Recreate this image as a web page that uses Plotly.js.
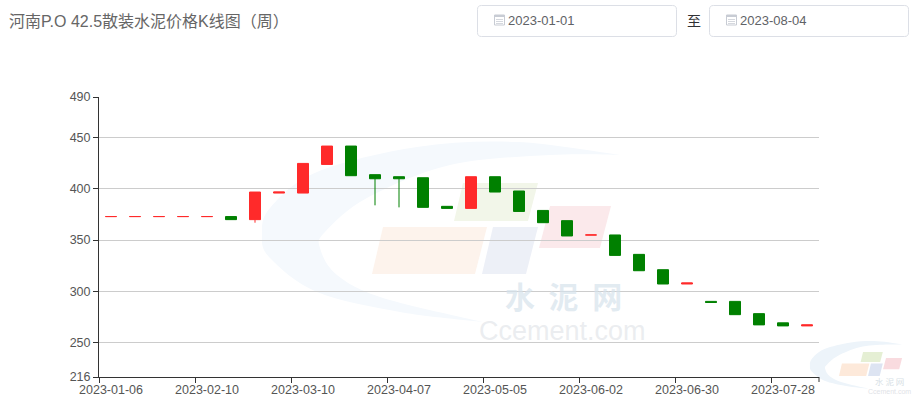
<!DOCTYPE html>
<html>
<head>
<meta charset="utf-8">
<script src="https://cdn.plot.ly/plotly-3.0.1.min.js"></script>
<style>html,body{margin:0;padding:0;background:#fff}#chart{width:921px;height:403px}
.trace.boxes path{stroke-linejoin:miter !important}</style>
</head>
<body>
<div id="chart"></div>
<script>
const dates = ['2023-01-06','2023-01-13','2023-01-20','2023-02-03','2023-02-10','2023-02-17','2023-02-24','2023-03-03','2023-03-10','2023-03-17','2023-03-24','2023-03-31','2023-04-07','2023-04-14','2023-04-21','2023-04-28','2023-05-05','2023-05-12','2023-05-19','2023-05-26','2023-06-02','2023-06-09','2023-06-16','2023-06-23','2023-06-30','2023-07-07','2023-07-14','2023-07-21','2023-07-28','2023-08-04'];
const opens  = [373,373,373,373,373,373,370,396,396,424,442,414,412,411,383,381,412,398,379,369,355,355,336,321,307,290,290,278,269,266];
const closes = [373,373,373,373,373,370,397,397,425,442,413,410,410,382,381,412,397,378,367,354,355,335,320,307,308,289,277,267,266,267];
const highs  = [373,373,373,373,373,373,397,397,425,442,442,414,412,411,383,412,412,398,379,369,355,355,336,321,308,290,290,278,269,267];
const lows   = [373,373,373,373,373,370,367,396,396,424,413,384,382,382,381,381,397,378,367,354,355,335,320,307,307,289,277,267,266,266];
const yTicks = [216,250,300,350,400,450,490];
const titleText = '河南P.O 42.5散装水泥价格K线图（周）';
const startDate = '2023-01-01';
const endDate = '2023-08-04';
const sep = '至';

const L=99, T=97, W=720, H=280;
const px = x => (x-L)/W;
const py = y => 1-(y-T)/H;
const P = (x,y) => px(x).toFixed(5)+','+py(y).toFixed(5);
const poly = pts => 'M'+pts.map(p=>P(p[0],p[1])).join('L')+'Z';
const sh = (path,fill,line,layer) => ({type:'path',xref:'paper',yref:'paper',path,fillcolor:fill,
  line:line?{color:line,width:1}:{width:0},layer:layer||'below'});

function curve(pts){ // smooth path through points
  let d='';
  for(let i=0;i<pts.length-1;i++){
    const p0=pts[Math.max(i-1,0)],p1=pts[i],p2=pts[i+1],p3=pts[Math.min(i+2,pts.length-1)];
    const c1=[p1[0]+(p2[0]-p0[0])/6,p1[1]+(p2[1]-p0[1])/6],c2=[p2[0]-(p3[0]-p1[0])/6,p2[1]-(p3[1]-p1[1])/6];
    d+='C'+P(c1[0],c1[1])+' '+P(c2[0],c2[1])+' '+P(p2[0],p2[1]);
  }
  return d;
}
const outer=[[620,155],[517,142],[417,147],[317,172],[270,208],[262,235],[270,258],[317,292],[400,312],[483,322]];
const inner=[[483,322],[383,298],[337,275],[320,248],[325,232],[367,198],[450,165],[550,155],[620,155]];
const blocks=[
 {p:[[383,227],[487,227],[475,274],[372,274]],c:['#fdf3ec','#fde9da']},
 {p:[[493,227],[538,227],[526,274],[482,274]],c:['#edf0f7','#dde4f2']},
 {p:[[463,183],[538,183],[528,221],[454,221]],c:['#f2f6e9','#e5efd4']},
 {p:[[550,206],[611,206],[600,248],[539,248]],c:['#fbe9eb','#f9dbdf']}
];
const small = q => [839+(q[0]-372)*0.264, 352+(q[1]-183)*0.264];
const shapes=[];
[[q=>q,0,'#f5f9fd'],[small,1,'#edf4fa']].forEach(([f,i,col])=>{
  const o=outer.map(f), n=inner.map(f);
  shapes.push(sh('M'+P(o[0][0],o[0][1])+curve(o)+curve(n)+'Z',col));
  blocks.forEach(b=>shapes.push(sh(poly(b.p.map(f)),b.c[i])));
});
function rrect(x0,y0,x1,y1,r){
  return 'M'+P(x0+r,y0)+'L'+P(x1-r,y0)+'Q'+P(x1,y0)+' '+P(x1,y0+r)+'L'+P(x1,y1-r)+'Q'+P(x1,y1)+' '+P(x1-r,y1)+
    'L'+P(x0+r,y1)+'Q'+P(x0,y1)+' '+P(x0,y1-r)+'L'+P(x0,y0+r)+'Q'+P(x0,y0)+' '+P(x0+r,y0)+'Z';
}
[477.5,709.5].forEach(x=>{
  shapes.push(sh(rrect(x,5.5,x+199,36.5,4),'#ffffff','#dcdfe6','above'));
  const ix=x+17, iy=15;
  shapes.push(sh(poly([[ix,iy],[ix+10,iy],[ix+10,iy+10],[ix,iy+10]]),'rgba(0,0,0,0)','#c8ccd4','above'));
  shapes.push(sh(poly([[ix,iy],[ix+10,iy],[ix+10,iy+2],[ix,iy+2]]),'#c8ccd4',null,'above'));
  [iy+4.5,iy+6.5,iy+8.5].forEach(v=>shapes.push(sh('M'+P(ix+1.5,v)+'L'+P(ix+8.5,v),'rgba(0,0,0,0)','#d5d8de','above')));
});
// closing tick at the right end of the category axis
shapes.push({type:'line',xref:'paper',yref:'paper',x0:1,x1:1,y0:0,y1:py(382),line:{color:'#333',width:1},layer:'above'});

const sans='"Liberation Sans","Noto Sans CJK SC",sans-serif';
const note=(x,y,text,size,color,anchor,family,weight)=>({xref:'paper',yref:'paper',x:px(x),y:py(y),text,showarrow:false,
  xanchor:anchor||'center',yanchor:'middle',font:{size,color,family:family||sans,weight:weight||400},borderpad:0});
const annotations=[
 note(7.5,21,titleText,16,'#666666','left'),
 note(507,20.5,startDate,13,'#606266','left'),
 note(739,20.5,endDate,13,'#606266','left'),
 note(693.5,20.5,sep,14,'#303133'),
 note(563,295,'水  泥  网',30,'rgba(214,226,236,0.7)','center','"Noto Sans CJK SC"',700),
 note(562,331,'Ccement.com',27,'rgba(222,226,230,0.62)'),
 note(889,381,'水 泥 网',8.5,'#d8dfe6','center','"Noto Sans CJK SC"'),
 note(889,391,'Ccement.com',7,'#dfe3e7')
];

const trace={type:'candlestick',x:dates,open:opens,high:highs,low:lows,close:closes,
  increasing:{line:{color:'#ff2a2a',width:1},fillcolor:'#ff2a2a'},
  decreasing:{line:{color:'#008000',width:1},fillcolor:'#008000'},
  hoverinfo:'skip',showlegend:false};
const layout={
  width:921,height:403,autosize:false,paper_bgcolor:'rgba(0,0,0,0)',plot_bgcolor:'rgba(0,0,0,0)',
  margin:{l:L,r:921-L-W,t:T,b:403-T-H,pad:0},boxgap:0.3,boxgroupgap:0.345,
  font:{family:sans,size:12.5,color:'#666666'},showlegend:false,
  xaxis:{type:'category',categoryorder:'array',categoryarray:dates,range:[-0.5,29.5],tickmode:'linear',tick0:0,dtick:4,
    tickson:'boundaries',ticks:'outside',ticklen:5,tickcolor:'#333',tickwidth:1,showline:true,linecolor:'#333',linewidth:1,ticklabelstandoff:1,
    showgrid:false,zeroline:false,rangeslider:{visible:false},tickangle:0,tickfont:{size:12.5,color:'#555'}},
  yaxis:{range:[216,490],tickmode:'array',tickvals:yTicks,ticktext:yTicks.map(String),ticks:'outside',ticklen:5,tickcolor:'#333',tickwidth:1,
    showline:true,linecolor:'#333',linewidth:1,showgrid:true,gridcolor:'#cccccc',gridwidth:1,zeroline:false,tickfont:{size:12.5,color:'#555'}},
  shapes,annotations
};
Plotly.newPlot('chart',[trace],layout,{displayModeBar:false,staticPlot:true});
</script>
</body>
</html>
